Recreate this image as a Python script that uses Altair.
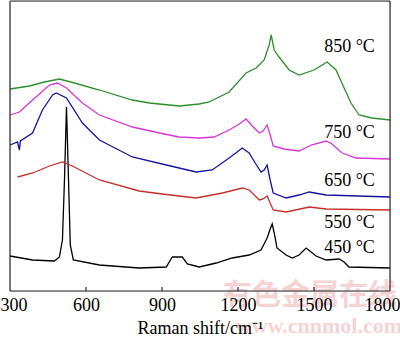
import altair as alt
import pandas as pd

# ---- data (Raman shift in cm^-1, intensity in arbitrary offset units) ----
x450 = [300, 389, 475, 495, 507, 515, 523, 531, 538, 550, 653, 810, 917, 933, 941, 980, 1000, 1047,
        1114, 1177, 1244, 1291, 1315, 1327, 1335, 1343, 1354, 1390, 1414, 1441, 1469, 1508, 1548,
        1599, 1619, 1638, 1800]
y450 = [35, 31, 30, 34, 51, 111, 184, 111, 46, 31, 26, 23, 24, 31, 34, 34, 27, 24,
        28, 33, 36, 41, 53, 62, 67, 58, 43, 36, 33, 36, 43, 35, 31,
        32, 29, 24, 23]

x550 = [330, 389, 456, 507, 546, 653, 810, 901, 1035, 1138, 1217, 1244, 1284, 1299, 1315, 1327,
        1339, 1390, 1481, 1548, 1800]
y550 = [114, 118, 125, 129, 125, 111, 100, 97, 93, 98, 103, 101, 91, 92, 95, 88,
        81, 79, 84, 82, 81]

x650 = [300, 330, 337, 341, 389, 428, 468, 483, 523, 586, 653, 783, 917, 1035, 1098, 1165, 1217,
        1244, 1268, 1291, 1303, 1315, 1327, 1339, 1390, 1441, 1481, 1548, 1800]
y650 = [146, 149, 141, 150, 158, 181, 196, 198, 193, 168, 151, 134, 126, 119, 121, 133, 143,
        138, 128, 119, 121, 126, 111, 98, 93, 96, 99, 96, 94]

x750 = [300, 337, 389, 456, 487, 523, 586, 653, 783, 909, 968, 1047, 1106, 1165, 1205, 1232,
        1256, 1284, 1299, 1315, 1327, 1339, 1382, 1441, 1489, 1548, 1571, 1611, 1666, 1800]
y750 = [176, 179, 191, 206, 208, 203, 188, 176, 164, 157, 154, 153, 154, 161, 167, 172,
        165, 158, 160, 166, 156, 145, 142, 140, 146, 150, 147, 138, 133, 132]

x850 = [300, 377, 436, 495, 554, 653, 783, 850, 968, 1047, 1086, 1165, 1232, 1272, 1303, 1323,
        1331, 1343, 1362, 1402, 1441, 1500, 1552, 1587, 1619, 1646, 1678, 1729, 1800]
y850 = [202, 205, 209, 212, 208, 201, 191, 188, 185, 187, 189, 199, 218, 223, 231, 246,
        256, 241, 234, 221, 216, 221, 229, 221, 203, 188, 176, 173, 171]

series_names = ["450", "550", "650", "750", "850"]
series_colors = ["#000000", "#c42f2a", "#1414a0", "#d636d6", "#2b8f2b"]

label_text = ["450 °C", "550 °C", "650 °C", "750 °C", "850 °C"]
label_x = [1540, 1540, 1540, 1540, 1540]
label_y = [43, 68, 110, 158, 244]

tick_values = [300, 600, 900, 1200, 1500, 1800]
inner_ticks = [600, 900, 1200, 1500]

watermark_cn = ["有色金属在线"]
watermark_url = ["www.cnnmol.com"]

# ---- build tables ----
rows = []
for name, xs, ys in zip(series_names, [x450, x550, x650, x750, x850],
                        [y450, y550, y650, y750, y850]):
    for i, (a, b) in enumerate(zip(xs, ys)):
        rows.append({"series": name, "shift": a, "intensity": b, "order": i})
df = pd.DataFrame(rows)
labels_df = pd.DataFrame({"shift": label_x, "intensity": label_y, "t": label_text})
ticks_df = pd.DataFrame({"shift": inner_ticks})
one = pd.DataFrame({"k": [0]})

x_scale = alt.Scale(domain=[300, 1800], nice=False, zero=False)
y_scale = alt.Scale(domain=[0, 290], nice=False, zero=False)
FONT = "Liberation Serif"
FRAME = "#2a2a2a"

x_axis = alt.Axis(values=tick_values, format="d", ticks=False, grid=False, domain=False,
                  labelFont=FONT, labelFontSize=18, labelColor="black",
                  labelPadding=5, labelFlush=True, labelFlushOffset=10, labelOverlap=False,
                  title="Raman shift/cm⁻¹", titleFont=FONT, titleFontSize=18,
                  titleFontWeight="normal", titleColor="black", titlePadding=5,
                  zindex=1)

wm_cn = alt.Chart(pd.DataFrame({"t": watermark_cn})).mark_text(
    font="Noto Sans CJK SC", fontSize=29, fontWeight="bold", color="#f5d3d3", align="center",
    baseline="middle"
).encode(text="t:N", x=alt.value(300), y=alt.value(295))

wm_url = alt.Chart(pd.DataFrame({"t": watermark_url})).mark_text(
    font=FONT, fontSize=22, fontWeight="bold", color="#f5d3d3", align="right",
    baseline="middle"
).encode(text="t:N", x=alt.value(392), y=alt.value(325))

lines = alt.Chart(df).mark_line(strokeWidth=1.3).encode(
    x=alt.X("shift:Q", scale=x_scale, axis=x_axis),
    y=alt.Y("intensity:Q", scale=y_scale, axis=None),
    color=alt.Color("series:N", scale=alt.Scale(domain=series_names, range=series_colors),
                    legend=None),
    order="order:Q",
)

labels = alt.Chart(labels_df).mark_text(
    font=FONT, fontSize=18, color="black", align="left", baseline="middle"
).encode(
    x=alt.X("shift:Q", scale=x_scale, axis=x_axis),
    y=alt.Y("intensity:Q", scale=y_scale, axis=None),
    text="t:N",
)

ticks = alt.Chart(ticks_df).mark_rule(color="black", strokeWidth=1).encode(
    x=alt.X("shift:Q", scale=x_scale, axis=x_axis),
    y=alt.value(286),
    y2=alt.value(290),
)

# plot frame (box around the plotting area)
frame_top = alt.Chart(one).mark_rule(color=FRAME, strokeWidth=1.2).encode(
    x=alt.value(0), x2=alt.value(380), y=alt.value(0))
frame_bottom = alt.Chart(one).mark_rule(color=FRAME, strokeWidth=1.2).encode(
    x=alt.value(0), x2=alt.value(380), y=alt.value(290))
frame_left = alt.Chart(one).mark_rule(color=FRAME, strokeWidth=1.2).encode(
    x=alt.value(0), y=alt.value(0), y2=alt.value(290))
frame_right = alt.Chart(one).mark_rule(color=FRAME, strokeWidth=1.2).encode(
    x=alt.value(380), y=alt.value(0), y2=alt.value(290))

chart = alt.layer(wm_cn, wm_url, lines, labels, ticks,
                  frame_top, frame_bottom, frame_left, frame_right).properties(
    width=380, height=290, autosize="none",
    padding={"left": 10, "top": 1, "right": 10, "bottom": 46},
).configure_view(stroke=FRAME, strokeWidth=1.2).configure(background="white")

chart.save("out.html", embed_options={"renderer": "svg", "actions": False})
